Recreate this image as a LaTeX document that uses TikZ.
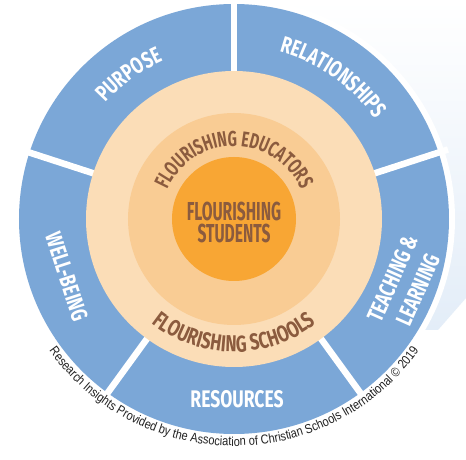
\documentclass[tikz,border=0pt]{standalone}
\usepackage{fontspec}
\usetikzlibrary{decorations.text}
\newfontfamily\labfont[FakeStretch=0.73]{Fira Sans}
\newfontfamily\edufont[FakeStretch=0.67]{Fira Sans}
\newfontfamily\cenfont[FakeStretch=0.6]{Fira Sans}
\newfontfamily\notefont[FakeStretch=0.85]{Liberation Sans}
\definecolor{ringblue}{HTML}{7BA7D7}
\definecolor{peachlight}{HTML}{FBDDB7}
\definecolor{peachdark}{HTML}{F9CC94}
\definecolor{coreorange}{HTML}{F8A634}
\definecolor{textbrown}{HTML}{8B5B3E}
\definecolor{palebg}{HTML}{E3EDF8}
\definecolor{notegray}{HTML}{222222}
\tikzset{
  seglabel/.style={text=white, font=\labfont\bfseries\fontsize{23}{28}\selectfont, align=center, inner sep=0pt},
  cenlabel/.style={text=textbrown, font=\cenfont\bfseries\fontsize{26}{22}\selectfont, align=center, inner sep=0pt},
  gapline/.style={white, line width=6.5pt}
}
\begin{document}
\begin{tikzpicture}[x=1pt,y=1pt]
\useasboundingbox (-234,-241) rectangle (232,219);
\fill[white] (-234,-241) rectangle (232,219);
% pale background at the right
\shade[top color=white, bottom color=palebg] (16,219) -- (232,219) -- (232,-79) -- (204,-111) -- (66,-111) -- cycle;
% rings
\fill[white] (0,0) circle (221);
\fill[ringblue] (0,0) circle (215);
\foreach \a in {90,162,234,306,18} \draw[gapline] (\a:140) -- (\a:225);
\fill[peachlight] (0,0) circle (148);
\fill[peachdark] (0,0) circle (106);
\fill[coreorange] (0,0) circle (62);
% segment labels
\path[decorate, decoration={text along path, text align=center, text color=white,
  text={|\labfont\bfseries\fontsize{23}{23}\selectfont|PURPOSE}}]
  (166:173) arc[start angle=166, end angle=86, radius=173];
\path[decorate, decoration={text along path, text align=center, text color=white,
  text={|\labfont\bfseries\fontsize{23}{23}\selectfont|RELATIONSHIPS}}]
  (100:173) arc[start angle=100, end angle=10, radius=173];
\node[seglabel, rotate=66] (teach) at (-20.8:183) {TEACHING \&\\LEARNING};
\node[seglabel, rotate=-72] (well) at (199:177) {WELL-BEING};
\node[seglabel, font=\labfont\bfseries\fontsize{24}{24}\selectfont] (res) at (3,-180) {RESOURCES};
% inner labels
\path[decorate, decoration={text along path, text align=center, text color=textbrown,
  text={|\edufont\bfseries\fontsize{21.5}{21.5}\selectfont|FLOURISHING EDUCATORS}}]
  (178:73) arc[start angle=178, end angle=2, radius=73];
\path[decorate, decoration={text along path, text align=center, text color=textbrown,
  text={|\labfont\bfseries\fontsize{23}{23}\selectfont|FLOURISHING SCHOOLS}}]
  (195:133) arc[start angle=195, end angle=345, radius=133];
\node[cenlabel] (stud) at (0,-3) {FLOURISHING\\STUDENTS};
% credit line
\path[decorate, decoration={text along path, text align=center, text color=notegray,
  text={|\notefont\fontsize{13}{13}\selectfont|Research Insights Provided by the Association of Christian Schools International © 2019}}]
  (194:227) arc[start angle=194, end angle=346, radius=227];
\end{tikzpicture}
\end{document}
